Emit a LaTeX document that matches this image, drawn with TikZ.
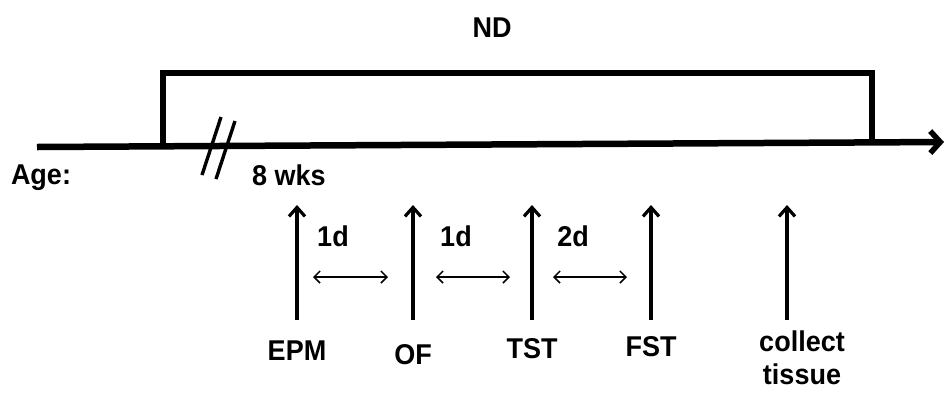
\documentclass[tikz,border=0pt]{standalone}
\usepackage{fontspec}
\setmainfont{Liberation Sans}
\usetikzlibrary{arrows.meta}
\begin{document}
\begin{tikzpicture}[x=1pt,y=-1pt,
  lbl/.style={font=\fontsize{27}{30}\selectfont\bfseries, inner sep=0pt, yscale=1.06},
  thick line/.style={line width=6.5pt},
  event/.style={line width=3.2pt, -{Straight Barb[length=9pt,width=16pt,line width=3.2pt]}},
  gap/.style={line width=1.5pt, {Straight Barb[length=6pt,width=12pt]}-{Straight Barb[length=6pt,width=12pt]}}]
\useasboundingbox (0,0) rectangle (948,392);
% time axis
\coordinate (a0) at (37,147);
\coordinate (a1) at (944,142);
\draw[thick line, -{Straight Barb[length=10pt,width=22pt,line width=5.5pt]}] (a0) -- (a1);
% diet period bracket
\coordinate (b0) at (163,146);
\coordinate (b1) at (163,73);
\coordinate (b2) at (872,73);
\coordinate (b3) at (872,143);
\draw[thick line, line join=miter] (b0) -- (b1) -- (b2) -- (b3);
\node[lbl] (nd) at (492,28) {ND};
% axis break
\coordinate (s1a) at (202,175); \coordinate (s1b) at (221,117);
\coordinate (s2a) at (216,179); \coordinate (s2b) at (235,121);
\draw[line width=3.4pt] (s1a) -- (s1b);
\draw[line width=3.4pt] (s2a) -- (s2b);
\node[lbl] (age) at (41,178) {Age:};
\node[lbl] (wks) at (289,175) {8 wks};
% test days
\foreach \n/\x in {epm/297,of/413,tst/532,fst/651,col/787}{
  \coordinate (\n-b) at (\x,320);
  \coordinate (\n-t) at (\x,205);
  \draw[event] (\n-b) -- (\n-t);
}
\node[lbl] (epm) at (297,351) {EPM};
\node[lbl] (of) at (413,355) {OF};
\node[lbl] (tst) at (532,349) {TST};
\node[lbl] (fst) at (651,347) {FST};
\node[lbl, align=center, font=\fontsize{27}{31}\selectfont\bfseries] (col) at (802,358) {collect\\tissue};
% intervals
\coordinate (g1a) at (313,277); \coordinate (g1b) at (388,277);
\coordinate (g2a) at (436,277); \coordinate (g2b) at (510,277);
\coordinate (g3a) at (553,277); \coordinate (g3b) at (627,277);
\draw[gap] (g1a) -- (g1b);
\draw[gap] (g2a) -- (g2b);
\draw[gap] (g3a) -- (g3b);
\node[lbl] (d1) at (333,236) {1d};
\node[lbl] (d2) at (456,236) {1d};
\node[lbl] (d3) at (573,236) {2d};
\end{tikzpicture}
\end{document}
